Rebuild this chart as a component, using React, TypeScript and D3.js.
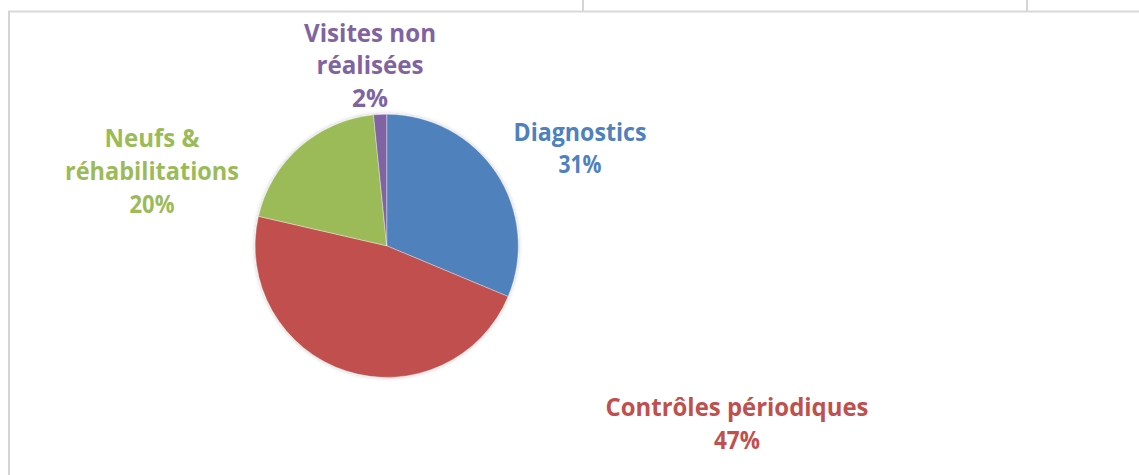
import React from "react";
import * as d3 from "d3";

const categories = ["Diagnostics", "Contrôles périodiques", "Neufs & réhabilitations", "Visites non réalisées"];
const values = [31.3, 47.3, 19.8, 1.6];
const colors = ["#4F81BD", "#C0504D", "#9BBB59", "#8064A2"];

// label layout: lines of the category name, center x, first baseline y, widths for fitting
const labelLayout = [
  { lines: ["Diagnostics"], x: 580, y: 140.7, widths: [133, 43] },
  { lines: ["Contrôles périodiques"], x: 737, y: 416, widths: [263, 46] },
  { lines: ["Neufs &", "réhabilitations"], x: 152, y: 147.3, widths: [95, 174, 45] },
  { lines: ["Visites non", "réalisées"], x: 370, y: 41.7, widths: [132, 107, 36] },
];

const W = 1139;
const H = 475;
const cx = 386.7;
const cy = 245.8;
const R = 131.6;
const lineH = 32.6;

export default function App() {
  const pie = d3.pie<number>().sort(null).value((d) => d).startAngle(0).endAngle(2 * Math.PI);
  const arcs = pie(values);
  const arc = d3.arc<d3.PieArcDatum<number>>().innerRadius(0).outerRadius(R);
  const total = d3.sum(values);
  const pct = d3.format(".0%");

  return (
    <svg
      width={W}
      height={H}
      style={{ position: "absolute", left: 0, top: 0, background: "#fff" }}
      fontFamily="'Open Sans', sans-serif"
    >
      <defs>
        <filter id="sh" x="-20%" y="-20%" width="140%" height="140%">
          <feGaussianBlur in="SourceAlpha" stdDeviation="2" />
          <feOffset dx="0" dy="0" result="b" />
          <feComponentTransfer>
            <feFuncA type="linear" slope="0.25" />
          </feComponentTransfer>
          <feMerge>
            <feMergeNode />
            <feMergeNode in="SourceGraphic" />
          </feMerge>
        </filter>
      </defs>
      {/* sheet grid lines */}
      <line x1={8} x2={W} y1={11.5} y2={11.5} stroke="#d9d9d9" strokeWidth={2} />
      <line x1={9} x2={9} y1={11} y2={H} stroke="#d4d4d4" strokeWidth={2} />
      <line x1={583} x2={583} y1={0} y2={11} stroke="#d4d4d4" strokeWidth={2} />
      <line x1={1027} x2={1027} y1={0} y2={11} stroke="#d4d4d4" strokeWidth={2} />

      <g transform={`translate(${cx},${cy})`} filter="url(#sh)">
        {arcs.map((a, i) => (
          <path key={i} d={arc(a) || ""} fill={colors[i]} stroke="#ffffff" strokeWidth={0.6} strokeOpacity={0.6} />
        ))}
      </g>

      {labelLayout.map((l, i) => {
        const texts = [...l.lines, pct(values[i] / total)];
        return (
          <g key={i} fill={colors[i]} fontWeight={700} fontSize={24.5} textAnchor="middle">
            {texts.map((t, j) => (
              <text
                key={j}
                x={l.x}
                y={l.y + j * lineH}
                textLength={l.widths[j]}
                lengthAdjust="spacingAndGlyphs"
              >
                {t}
              </text>
            ))}
          </g>
        );
      })}
    </svg>
  );
}
